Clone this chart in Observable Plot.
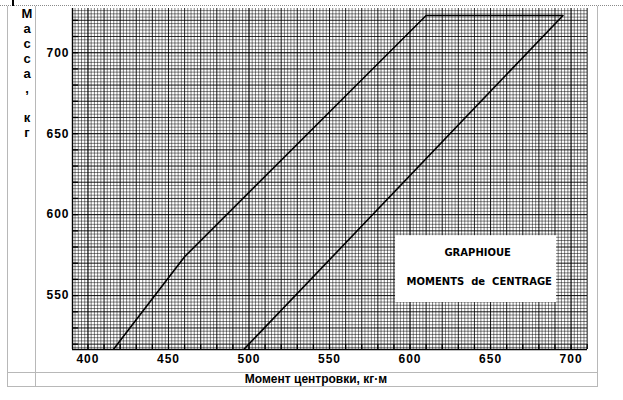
<!DOCTYPE html>
<html>
<head>
<meta charset="utf-8">
<script src="https://cdn.jsdelivr.net/npm/d3@7"></script>
<script src="https://cdn.jsdelivr.net/npm/@observablehq/plot@0.6"></script>
<style>
  body { margin: 0; background: #fff; }
  #wrap { position: relative; width: 623px; height: 400px; overflow: hidden; font-family: "Liberation Sans", Arial, sans-serif; }
  #chart { position: absolute; left: 0; top: 0; }
  #chart svg g[aria-label="y-axis tick label"] text,
  #chart svg g[aria-label="x-axis tick label"] text { letter-spacing: 1px; }
  .ln { position: absolute; background: #b8b8b8; }
  #dots { position: absolute; left: 0; top: 5px; width: 623px; height: 0; border-top: 1px dotted #8a8a8a; }
  #mark { position: absolute; left: 12px; top: 0; width: 2px; height: 6px; background: #000; }
  #ylab { position: absolute; left: 13px; width: 28px; top: 7px; text-align: center; font-weight: bold; font-size: 13px; line-height: 14.9px; color: #000; }
  #xlab { position: absolute; left: 35px; width: 562px; top: 372px; height: 14px; line-height: 14px; text-align: center; font-weight: bold; font-size: 12px; color: #000; }
</style>
</head>
<body>
<div id="wrap">
  <div id="chart"></div>
  <div id="dots"></div>
  <div id="mark"></div>
  <div class="ln" style="left:7px;top:6px;width:1px;height:380px;"></div>
  <div class="ln" style="left:35px;top:6px;width:1px;height:380px;"></div>
  <div class="ln" style="left:597px;top:6px;width:1px;height:380px;"></div>
  <div class="ln" style="left:7px;top:372px;width:591px;height:1px;"></div>
  <div class="ln" style="left:7px;top:386px;width:591px;height:1px;"></div>
  <div id="ylab"></div>
  <div id="xlab"></div>
</div>
<script>
// ---- data ----
const envelopeMoment = [416, 460, 610, 695, 497];   // кг·м
const envelopeMass   = [517, 574, 723, 723, 517];   // кг

const xTickLabels = [400, 450, 500, 550, 600, 650, 700];
const yTickLabels = [550, 600, 650, 700];

const xDomain = [390.4, 710.2];
const yDomain = [516.7, 727.3];

const yTitleLetters = ["М", "а", "с", "с", "а", ",", "\u00a0", "к", "г"];
const xTitle = "Момент центровки, кг·м";

const boxLines = ["GRAPHIOUE", "MOMENTS  de  CENTRAGE"];
const boxLineMoment = [642, 643];
const boxLineMass = [576.5, 558.6];
const boxMoment = [591, 691];
const boxMass = [545.7, 587];

// ---- build tables ----
const envelope = envelopeMoment.map((m, i) => ({moment: m, mass: envelopeMass[i]}));
const boxText = boxLines.map((t, i) => ({text: t, moment: boxLineMoment[i], mass: boxLineMass[i]}));
const box = [{x1: boxMoment[0], x2: boxMoment[1], y1: boxMass[0], y2: boxMass[1]}];

// graph-paper rulings (every 2, 10 and 50 units)
const fineX = d3.range(392, 711, 2), fineY = d3.range(518, 728, 2);
const midX = d3.range(400, 711, 10), midY = d3.range(520, 728, 10);
const majX = d3.range(400, 711, 50), majY = d3.range(550, 728, 50);

const font = "'Liberation Sans', Arial, sans-serif";

const chart = Plot.plot({
  width: 623,
  height: 400,
  marginLeft: 72,
  marginRight: 36,
  marginTop: 8,
  marginBottom: 51,
  x: {domain: xDomain},
  y: {domain: yDomain},
  style: {background: "transparent", fontFamily: font, color: "#000"},
  marks: [
    Plot.ruleX(fineX, {stroke: "#000", strokeOpacity: 0.55, strokeWidth: 0.9}),
    Plot.ruleY(fineY, {stroke: "#000", strokeOpacity: 0.55, strokeWidth: 0.9}),
    Plot.ruleX(midX, {stroke: "#000", strokeOpacity: 0.6, strokeWidth: 1}),
    Plot.ruleY(midY, {stroke: "#000", strokeOpacity: 0.6, strokeWidth: 1}),
    Plot.ruleX(majX, {stroke: "#000", strokeOpacity: 0.5, strokeWidth: 0.9}),
    Plot.ruleY(majY, {stroke: "#000", strokeOpacity: 0.5, strokeWidth: 0.9}),
    Plot.ruleX([xDomain[0]], {stroke: "#000", strokeWidth: 1.4}),
    Plot.ruleY([yDomain[0]], {stroke: "#000", strokeWidth: 1.6}),
    Plot.rect(box, {x1: "x1", x2: "x2", y1: "y1", y2: "y2", fill: "#fff"}),
    Plot.text(boxText, {x: "moment", y: "mass", text: "text", fontFamily: "'DejaVu Sans', sans-serif", fontWeight: "bold", fontSize: 10, fill: "#000"}),
    Plot.line(envelope, {x: "moment", y: "mass", stroke: "#000", strokeWidth: 1.6, curve: "linear"}),
    Plot.axisX({ticks: midX, tickSize: -5, tickFormat: () => "", strokeWidth: 1.3, label: null}),
    Plot.axisX({ticks: xTickLabels, tickSize: 0, tickPadding: 5, tickFormat: d => String(d), fontSize: 12, fontWeight: "bold", label: null}),
    Plot.axisY({ticks: midY, tickSize: -6, tickFormat: () => "", strokeWidth: 1.3, label: null}),
    Plot.axisY({ticks: yTickLabels, tickSize: 0, tickPadding: 3, tickFormat: d => String(d), fontSize: 12, fontWeight: "bold", label: null})
  ]
});
document.getElementById("chart").appendChild(chart);
// keep doubled spaces in the box caption
chart.querySelectorAll("text").forEach(t => t.setAttribute("xml:space", "preserve"));
chart.querySelectorAll("text").forEach(t => t.style.whiteSpace = "pre");

document.getElementById("ylab").innerHTML = yTitleLetters.map(c => `<div>${c}</div>`).join("");
document.getElementById("xlab").textContent = xTitle;
</script>
</body>
</html>
